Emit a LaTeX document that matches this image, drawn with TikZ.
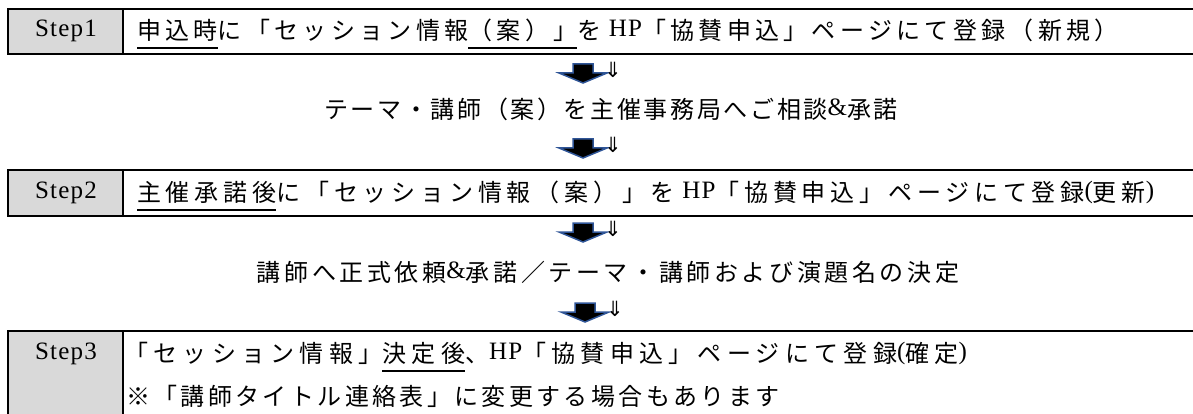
\documentclass[tikz,border=0pt]{standalone}
\usepackage{fontspec}
\setmainfont{Liberation Serif}[LetterSpace=5]
\newfontfamily\cjkA{Noto Sans CJK JP}[LetterSpace=18]
\newfontfamily\cjkF{Noto Sans CJK JP}[LetterSpace=20]
\newfontfamily\cjkB{Noto Sans CJK JP}[LetterSpace=11]
\newfontfamily\cjkC{Noto Sans CJK JP}[LetterSpace=15]
\newfontfamily\cjkD{Noto Sans CJK JP}[LetterSpace=22]
\newfontfamily\cjkE{Noto Sans CJK JP}[LetterSpace=14]
\newfontfamily\symfont{DejaVu Sans}
\let\curcjk\cjkA
\newcommand\J[1]{{\curcjk\fontsize{24pt}{28pt}\selectfont\raisebox{-3pt}{#1}}}
\newcommand\ulx[1]{\leavevmode\setbox0\hbox{#1}\rlap{\rule[-12.5pt]{\wd0}{2pt}}\box0}
\definecolor{cellgray}{RGB}{217,217,217}
\definecolor{arrowblue}{RGB}{47,85,151}
\tikzset{
  txt/.style={inner sep=0pt, anchor=base west, font=\fontsize{25pt}{29pt}\selectfont},
  ctxt/.style={inner sep=0pt, anchor=base, font=\fontsize{25pt}{29pt}\selectfont},
  outer/.style={draw=black, line width=2.2pt},
  divider/.style={draw=black, line width=1.6pt},
  cell/.style={fill=cellgray},
  barrow/.pic={
    \filldraw[fill=black, draw=arrowblue, line width=1.5pt, line join=miter]
      (-10,0) -- (10,0) -- (10,9) -- (24,9) -- (0,19) -- (-24,9) -- (-10,9) -- cycle;
    \node[inner sep=0pt, anchor=north, font=\symfont\fontsize{21pt}{21pt}\selectfont] at (30,-2) {⇓};
  }
}
\begin{document}
\begin{tikzpicture}[x=1pt, y=-1pt]
\useasboundingbox (0,0) rectangle (1193,414);
\clip (0,0) rectangle (1193,414);
% Step 1 box
\fill[cell] (8,9) rectangle (123,54);
\draw[outer] (1200,9) -- (8,9) -- (8,54) -- (1200,54);
\draw[divider] (123,9) -- (123,54);
\node[ctxt] (s1) at (66,37) {Step1};
\node[txt] (t1) at (137,37) {\let\curcjk\cjkA\ulx{\J{申込時}}\J{に「セッション情報}\ulx{\J{（案）」}}\J{を} HP\J{「協賛申込」ページにて登録（新規）}};
% arrow 1
\pic at (583,64) {barrow};
\node[ctxt] (t2) at (611,116) {\let\curcjk\cjkB\J{テーマ・講師（案）を主催事務局へご相談}\&\J{承諾}};
% arrow 2
\pic at (583,139) {barrow};
% Step 2 box
\fill[cell] (8,170) rectangle (123,216);
\draw[outer] (1200,170) -- (8,170) -- (8,216) -- (1200,216);
\draw[divider] (123,170) -- (123,216);
\node[ctxt] (s2) at (66,198) {Step2};
\node[txt] (t3) at (137,198) {\let\curcjk\cjkF\ulx{\J{主催承諾後}}\J{に「セッション情報（案）」を} HP\J{「協賛申込」ページにて登録}(\J{更新})};
% arrow 3
\pic at (583,223) {barrow};
\node[ctxt] (t4) at (608,278) {\let\curcjk\cjkC\J{講師へ正式依頼}\&\J{承諾／テーマ・講師および演題名の決定}};
% arrow 4
\pic at (585,303) {barrow};
% Step 3 box
\fill[cell] (8,331) rectangle (123,420);
\draw[outer] (1200,331) -- (8,331) -- (8,420);
\draw[divider] (123,331) -- (123,420);
\node[ctxt] (s3) at (66,359) {Step3};
\node[txt] (t5) at (124,359) {\let\curcjk\cjkD\J{「セッション情報」}\ulx{\J{決定後}}\J{、}HP\J{「協賛申込」ページにて登録}(\J{確定})};
\node[txt] (t6) at (126,402) {\let\curcjk\cjkE\J{※「講師タイトル連絡表」に変更する場合もあります}};
\end{tikzpicture}
\end{document}
